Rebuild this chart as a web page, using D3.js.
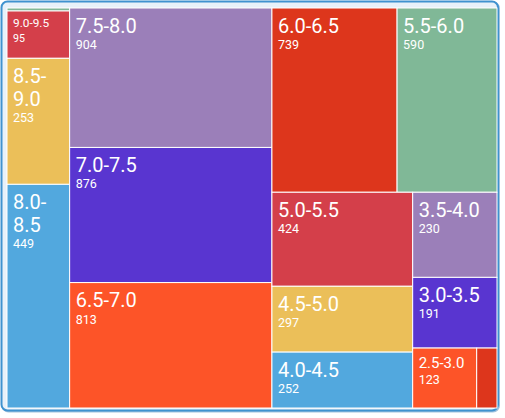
<!DOCTYPE html>
<html>
<head>
<meta charset="utf-8">
<script src="https://cdn.jsdelivr.net/npm/d3@7"></script>
<style>
  body { margin: 0; background: #fff; }
  text { font-family: Roboto, "Noto Sans", sans-serif; fill: #fff; }
</style>
</head>
<body>
<div id="chart-area"></div>
<script>
let width = 505,
    height = 418;

// rating bins, in the order the treemap lays them out
const bins = ["9.5-10.0", "9.0-9.5", "8.5-9.0", "8.0-8.5", "7.5-8.0", "7.0-7.5", "6.5-7.0", "6.0-6.5",
              "5.5-6.0", "5.0-5.5", "4.5-5.0", "4.0-4.5", "3.5-4.0", "3.0-3.5", "2.5-3.0", "2.0-2.5"];
const counts = [6, 95, 253, 449, 904, 876, 813, 739, 590, 424, 297, 252, 230, 191, 123, 39];
const palette = ["#80b897", "#d43f4a", "#ebbf59", "#52a8de", "#9b7fb9", "#5935d0", "#fd5428", "#dd361c"];

const box = {x0: 7, y0: 8, x1: 497, y1: 408};

const svg = d3.select("#chart-area")
  .append("svg")
  .attr("width", width)
  .attr("height", height);

// frame
svg.append("rect")
  .attr("x", 2.5).attr("y", 2.5)
  .attr("width", 496.5).attr("height", 409)
  .attr("rx", 6)
  .attr("fill", "none")
  .attr("stroke", "#2f78b4")
  .attr("stroke-opacity", 0.45)
  .attr("stroke-width", 2);
svg.append("rect")
  .attr("x", 1.5).attr("y", 1.5)
  .attr("width", 496.5).attr("height", 409)
  .attr("rx", 6)
  .attr("fill", "#e8f1f9")
  .attr("stroke", "#3f92cf")
  .attr("stroke-width", 2);

const data = bins.map((b, i) => ({name: b, value: counts[i], idx: i}));

const root = d3.hierarchy({children: data}).sum(d => d.value || 0);

d3.treemap()
  .tile(d3.treemapSquarify)
  .size([box.x1 - box.x0, box.y1 - box.y0])(root);

const g = svg.append("g")
  .attr("transform", `translate(${box.x0},${box.y0})`);

const cell = g.selectAll("g.cell")
  .data(root.leaves())
  .join("g")
  .attr("class", "cell")
  .attr("transform", d => `translate(${d.x0},${d.y0})`);

cell.append("rect")
  .attr("width", d => d.x1 - d.x0)
  .attr("height", d => d.y1 - d.y0)
  .attr("fill", d => palette[d.data.idx % palette.length])
  .attr("stroke", "#fff")
  .attr("stroke-width", 1);

// measure a label at the base size
function textWidth(str, size) {
  const t = svg.append("text").attr("font-size", size).text(str);
  const w = t.node().getComputedTextLength();
  t.remove();
  return w;
}

const pad = 6;
cell.each(function(d) {
  const w = d.x1 - d.x0, h = d.y1 - d.y0;
  if (w < 30 || h < 20) return;
  const c = d3.select(this);
  const tw = textWidth(d.data.name, 20);
  let font = 20, lines = [d.data.name];
  if (tw > w - 2 * pad) {
    if (h >= 80) {
      const k = d.data.name.indexOf("-");
      lines = [d.data.name.slice(0, k + 1), d.data.name.slice(k + 1)];
    } else {
      font = Math.min(20, 20 * (w - 14) / tw, h / 4);
    }
  }
  const vFont = Math.min(12.5, 0.9 * font);
  let y = font + 4.5;
  lines.forEach((ln, i) => {
    c.append("text")
      .attr("x", pad)
      .attr("y", y + i * font * 1.15)
      .attr("font-size", font)
      .text(ln);
  });
  y += (lines.length - 1) * font * 1.15;
  c.append("text")
    .attr("x", pad)
    .attr("y", y + vFont + 4)
    .attr("font-size", vFont)
    .text(d.data.value);
});
</script>
</body>
</html>
